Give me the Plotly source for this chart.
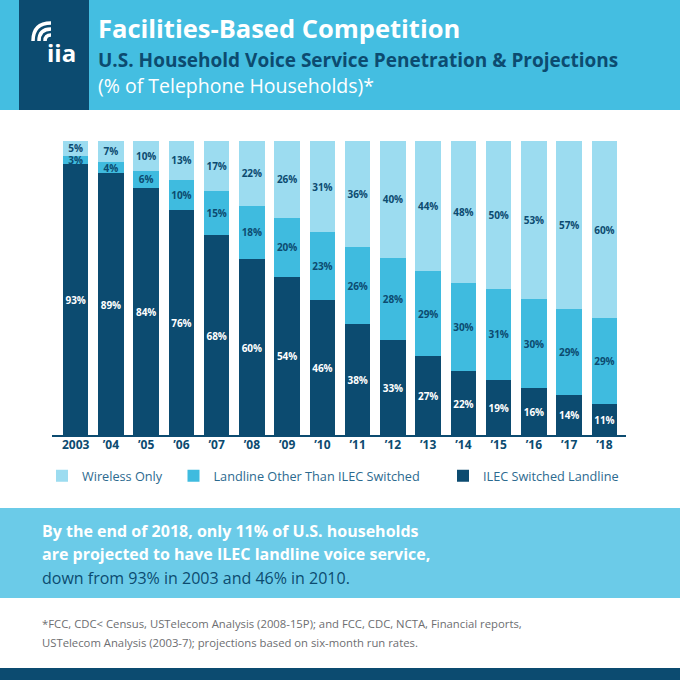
import plotly.graph_objects as go

# data
years = ["2003", "’04", "’05", "’06", "’07", "’08", "’09", "’10",
         "’11", "’12", "’13", "’14", "’15", "’16", "’17", "’18"]
ilec = [93, 89, 84, 76, 68, 60, 54, 46, 38, 33, 27, 22, 19, 16, 14, 11]
landline_other = [3, 4, 6, 10, 15, 18, 20, 23, 26, 28, 29, 30, 31, 30, 29, 29]
wireless = [5, 7, 10, 13, 17, 22, 26, 31, 36, 40, 44, 48, 50, 53, 57, 60]

NAVY = "#0C4B70"
MID = "#3FBBDF"
LIGHT = "#9CDCF0"
HEADER = "#44BEE1"
BAND = "#6BCBE8"
FONT = "Open Sans"

W, H = 680, 680


def px(x):
    return x / W


def py(y):
    return 1 - y / H


fig = go.Figure()

series = [
    ("ILEC Switched Landline", ilec, NAVY, "white", "legend3"),
    ("Landline Other Than ILEC Switched", landline_other, MID, NAVY, "legend2"),
    ("Wireless Only", wireless, LIGHT, NAVY, "legend"),
]
for name, vals, col, tcol, leg in series:
    fig.add_trace(go.Bar(
        x=years, y=vals, name=name, marker_color=col, marker_line_width=0,
        text=[f"{v}%" for v in vals], textposition="inside",
        insidetextanchor="middle", textangle=0,
        textfont=dict(family=FONT, size=10, color=tcol, weight="bold"),
        legend=leg, hoverinfo="skip",
    ))

leg_common = dict(orientation="h", yanchor="middle", xanchor="left",
                  bgcolor="rgba(0,0,0,0)",
                  font=dict(family=FONT, size=12.7, color="#2C6A8F"))

fig.update_layout(
    width=W, height=H,
    margin=dict(l=0, r=0, t=0, b=0),
    paper_bgcolor="white", plot_bgcolor="white",
    barmode="stack", barnorm="percent", bargap=0.28,
    uniformtext=dict(minsize=10, mode="show"),
    showlegend=True,
    legend=dict(x=px(42), y=py(476), **leg_common),
    legend2=dict(x=px(173.5), y=py(476), **leg_common),
    legend3=dict(x=px(443), y=py(476), **leg_common),
    xaxis=dict(domain=[px(58), px(622)], showgrid=False, showline=False,
               ticks="", tickfont=dict(family=FONT, size=12, color=NAVY, weight="bold"),
               fixedrange=True),
    yaxis=dict(domain=[py(436), py(141)], range=[0, 100], visible=False,
               fixedrange=True),
)

shapes = [
    # header band and logo block
    dict(type="rect", xref="paper", yref="paper", x0=0, x1=1, y0=py(110), y1=1,
         fillcolor=HEADER, line_width=0, layer="below"),
    dict(type="rect", xref="paper", yref="paper", x0=px(19), x1=px(89), y0=py(110), y1=1,
         fillcolor=NAVY, line_width=0, layer="below"),
    # baseline under bars
    dict(type="line", xref="paper", yref="paper", x0=px(52), x1=px(626),
         y0=py(436), y1=py(436), line=dict(color=NAVY, width=2)),
    # takeaway band
    dict(type="rect", xref="paper", yref="paper", x0=0, x1=1, y0=py(598), y1=py(508),
         fillcolor=BAND, line_width=0, layer="below"),
    # bottom strip
    dict(type="rect", xref="paper", yref="paper", x0=0, x1=1, y0=0, y1=py(668),
         fillcolor=NAVY, line_width=0, layer="below"),
]

# wifi arcs of the logo (centre ~ (51, 41) in pixels)
cx, cy = 51, 41
for r in (6, 12, 18):
    path = (f"M {px(cx - r)},{py(cy)} "
            f"Q {px(cx - r)},{py(cy - r)} {px(cx)},{py(cy - r)}")
    shapes.append(dict(type="path", xref="paper", yref="paper", path=path,
                       line=dict(color="white", width=3.5)))
fig.update_layout(shapes=shapes)

ann = [
    dict(text="iia", x=px(61), y=py(53), font=dict(family=FONT, size=24, color="white", weight="bold")),
    dict(text="Facilities-Based Competition", x=px(96), y=py(28), xanchor="left",
         font=dict(family=FONT, size=25.5, color="white", weight="bold")),
    dict(text="U.S. Household Voice Service Penetration & Projections", x=px(96), y=py(60),
         xanchor="left", font=dict(family=FONT, size=19, color=NAVY, weight="bold")),
    dict(text="(% of Telephone Households)*", x=px(96), y=py(85), xanchor="left",
         font=dict(family=FONT, size=19.5, color="white")),
    dict(text="<b>By the end of 2018, only 11% of U.S. households</b>", x=px(40), y=py(531),
         xanchor="left", font=dict(family=FONT, size=16, color="white")),
    dict(text="<b>are projected to have ILEC landline voice service,</b>", x=px(40), y=py(554),
         xanchor="left", font=dict(family=FONT, size=16, color="white")),
    dict(text="down from 93% in 2003 and 46% in 2010.", x=px(40), y=py(578),
         xanchor="left", font=dict(family=FONT, size=16, color=NAVY)),
    dict(text="*FCC, CDC< Census, USTelecom Analysis (2008-15P); and FCC, CDC, NCTA, Financial reports,",
         x=px(40), y=py(623), xanchor="left", font=dict(family=FONT, size=11.3, color="#6D6E71")),
    dict(text="USTelecom Analysis (2003-7); projections based on six-month run rates.",
         x=px(40), y=py(642), xanchor="left", font=dict(family=FONT, size=11.3, color="#6D6E71")),
]
for a in ann:
    a.update(xref="paper", yref="paper", showarrow=False, yanchor="middle")
    a.setdefault("xanchor", "center")
fig.update_layout(annotations=ann)

# the page body has a default margin; drop it so the figure sits at (0, 0)
fig.write_html("out.html", config={"displayModeBar": False},
               post_script="document.body.style.margin='0';")
